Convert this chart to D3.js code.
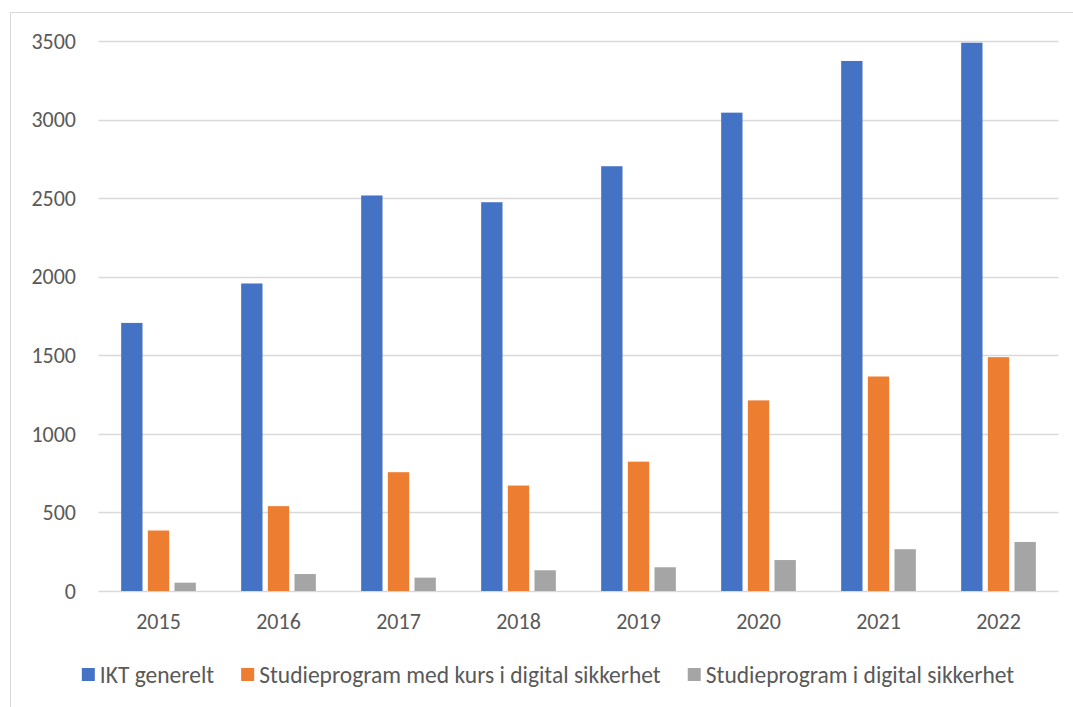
<!DOCTYPE html>
<html>
<head>
<meta charset="utf-8">
<script src="https://cdn.jsdelivr.net/npm/d3@7"></script>
<style>
  body { margin: 0; background: #fff; }
  text { font-family: Carlito, "Liberation Sans Narrow", "Liberation Sans", sans-serif; fill: #595959; }
</style>
</head>
<body>
<script>
const width = 1073,
    height = 707;

const years = ['2015', '2016', '2017', '2018', '2019', '2020', '2021', '2022'];
const seriesNames = ['IKT generelt', 'Studieprogram med kurs i digital sikkerhet', 'Studieprogram i digital sikkerhet'];
const iktGenerelt = [1706, 1957, 2517, 2474, 2703, 3044, 3373, 3489];
const medKurs = [385, 540, 756, 671, 823, 1213, 1365, 1488];
const digitalSikkerhet = [53, 108, 85, 132, 151, 197, 266, 312];
const yTicks = [0, 500, 1000, 1500, 2000, 2500, 3000, 3500];
const colors = ['#4472C4', '#ED7D31', '#A5A5A5'];

const seriesValues = [iktGenerelt, medKurs, digitalSikkerhet];

const margin = {left: 98.5, right: 1058.5, top: 41, bottom: 591};

var svg = d3.select('body').append('svg')
    .attr('width', width)
    .attr('height', height);

// chart area border
svg.append('rect')
    .attr('x', 10.5).attr('y', 12.5)
    .attr('width', 1100).attr('height', 740)
    .attr('fill', 'none')
    .attr('stroke', '#D9D9D9');

var x0 = d3.scaleBand()
    .domain(years)
    .range([margin.left, margin.right])
    .padding(0);

var x1 = d3.scaleBand()
    .domain(d3.range(seriesNames.length))
    .range([x0.bandwidth() / 2 - 40, x0.bandwidth() / 2 + 40])
    .paddingInner(0.2)
    .paddingOuter(0.1);

var y = d3.scaleLinear()
    .domain([0, 3500])
    .range([margin.bottom, margin.top]);

// gridlines
svg.append('g')
    .selectAll('line')
    .data(yTicks)
  .enter().append('line')
    .attr('x1', margin.left)
    .attr('x2', margin.right)
    .attr('y1', d => Math.round(y(d)) + 0.5)
    .attr('y2', d => Math.round(y(d)) + 0.5)
    .attr('stroke', '#D9D9D9')
    .attr('stroke-width', 1.3);

// y labels
svg.append('g')
    .selectAll('text')
    .data(yTicks)
  .enter().append('text')
    .attr('x', 76)
    .attr('y', d => y(d))
    .attr('dy', '0.35em')
    .attr('text-anchor', 'end')
    .style('font-size', '22px')
    .text(d => d);

// bars
var groups = svg.append('g')
    .selectAll('g')
    .data(years)
  .enter().append('g')
    .attr('transform', d => 'translate(' + x0(d) + ',0)');

groups.selectAll('rect')
    .data((d, i) => seriesValues.map((s, k) => ({k: k, v: s[i]})))
  .enter().append('rect')
    .attr('x', d => x1(d.k))
    .attr('width', x1.bandwidth())
    .attr('y', d => y(d.v))
    .attr('height', d => y(0) - y(d.v))
    .attr('fill', d => colors[d.k]);

// x labels
svg.append('g')
    .selectAll('text')
    .data(years)
  .enter().append('text')
    .attr('x', d => x0(d) + x0.bandwidth() / 2)
    .attr('y', 621)
    .attr('dy', '0.35em')
    .attr('text-anchor', 'middle')
    .style('font-size', '22px')
    .text(d => d);

// legend
var legend = svg.append('g');
var lx = 0;
seriesNames.forEach((name, i) => {
    var item = legend.append('g').attr('transform', 'translate(' + lx + ',0)');
    item.append('rect')
        .attr('x', 0).attr('y', 668)
        .attr('width', 13).attr('height', 13)
        .attr('fill', colors[i]);
    var t = item.append('text')
        .attr('x', 18)
        .attr('y', 675)
        .attr('dy', '0.35em')
        .style('font-size', '23.5px')
        .text(name);
    lx += 18 + t.node().getComputedTextLength() + 27;
});
lx -= 27;
legend.attr('transform', 'translate(' + (548 - lx / 2) + ',0)');
</script>
</body>
</html>
